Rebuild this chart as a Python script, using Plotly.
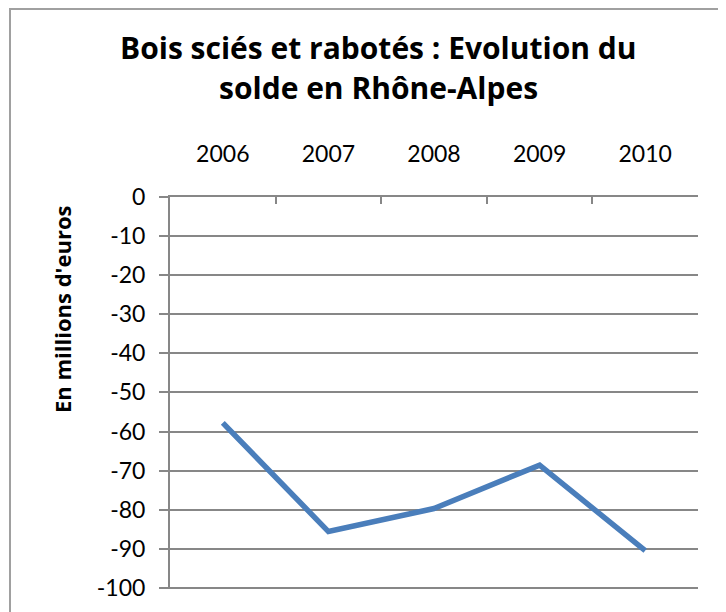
import plotly.graph_objects as go

years = ["2006", "2007", "2008", "2009", "2010"]
solde = [-57.8, -85.6, -79.7, -68.6, -90.5]
y_ticks = [0, -10, -20, -30, -40, -50, -60, -70, -80, -90, -100]

OFF = 8  # page offset of the figure
W, H = 726 - OFF, 612 - OFF
L, T = 170 - OFF, 197 - OFF
R = W - (698 - OFF)
B = H - (589 - OFF)
pw, ph = W - L - R, H - T - B

def px_x(px):
    return (px - OFF - L) / pw

def px_y(py):
    return (H - B - (py - OFF)) / ph

fig = go.Figure()
fig.add_trace(go.Scatter(
    x=years, y=solde, mode="lines",
    line=dict(color="#4A7EBB", width=5.5),
    showlegend=False, hoverinfo="skip",
))

grid = "#878787"
fig.update_layout(
    width=W, height=H,
    margin=dict(l=L, r=R, t=T, b=B),
    paper_bgcolor="white", plot_bgcolor="white",
    font=dict(family="Lato", color="black"),
    xaxis=dict(
        type="category", side="top", range=[-0.5, 4.5],
        tickson="boundaries", ticks="inside", ticklen=7, tickwidth=2, tickcolor=grid,
        showgrid=False, showline=True, linecolor=grid, linewidth=2,
        tickfont=dict(size=23, family="Lato"), ticklabelstandoff=24,
        zeroline=False, fixedrange=True,
    ),
    yaxis=dict(
        range=[-100.3, 0], tickvals=y_ticks, ticktext=[str(v) for v in y_ticks],
        ticks="outside", ticklen=9, tickwidth=2, tickcolor=grid,
        showgrid=True, gridcolor=grid, gridwidth=2,
        showline=True, linecolor=grid, linewidth=2,
        tickfont=dict(size=23, family="Lato"), ticklabelstandoff=9,
        zeroline=False, fixedrange=True,
    ),
    shapes=[dict(
        type="rect", xref="paper", yref="paper",
        x0=px_x(10), x1=px_x(760), y0=px_y(640), y1=px_y(9),
        line=dict(color="#A0A0A0", width=2), layer="below",
    )],
    annotations=[
        dict(text="<b>Bois sciés et rabotés : Evolution du</b>", xref="paper", yref="paper",
             x=px_x(378), y=px_y(47), xanchor="center", yanchor="middle",
             showarrow=False, font=dict(size=30, family="Open Sans")),
        dict(text="<b>solde en Rhône-Alpes</b>", xref="paper", yref="paper",
             x=px_x(378), y=px_y(88), xanchor="center", yanchor="middle",
             showarrow=False, font=dict(size=30, family="Open Sans")),
        dict(text="<b>En millions d'euros</b>", xref="paper", yref="paper",
             x=px_x(62), y=px_y(309), xanchor="center", yanchor="middle",
             textangle=-90, showarrow=False, font=dict(size=22, family="Open Sans")),
    ],
)

fig.write_html("out.html")
